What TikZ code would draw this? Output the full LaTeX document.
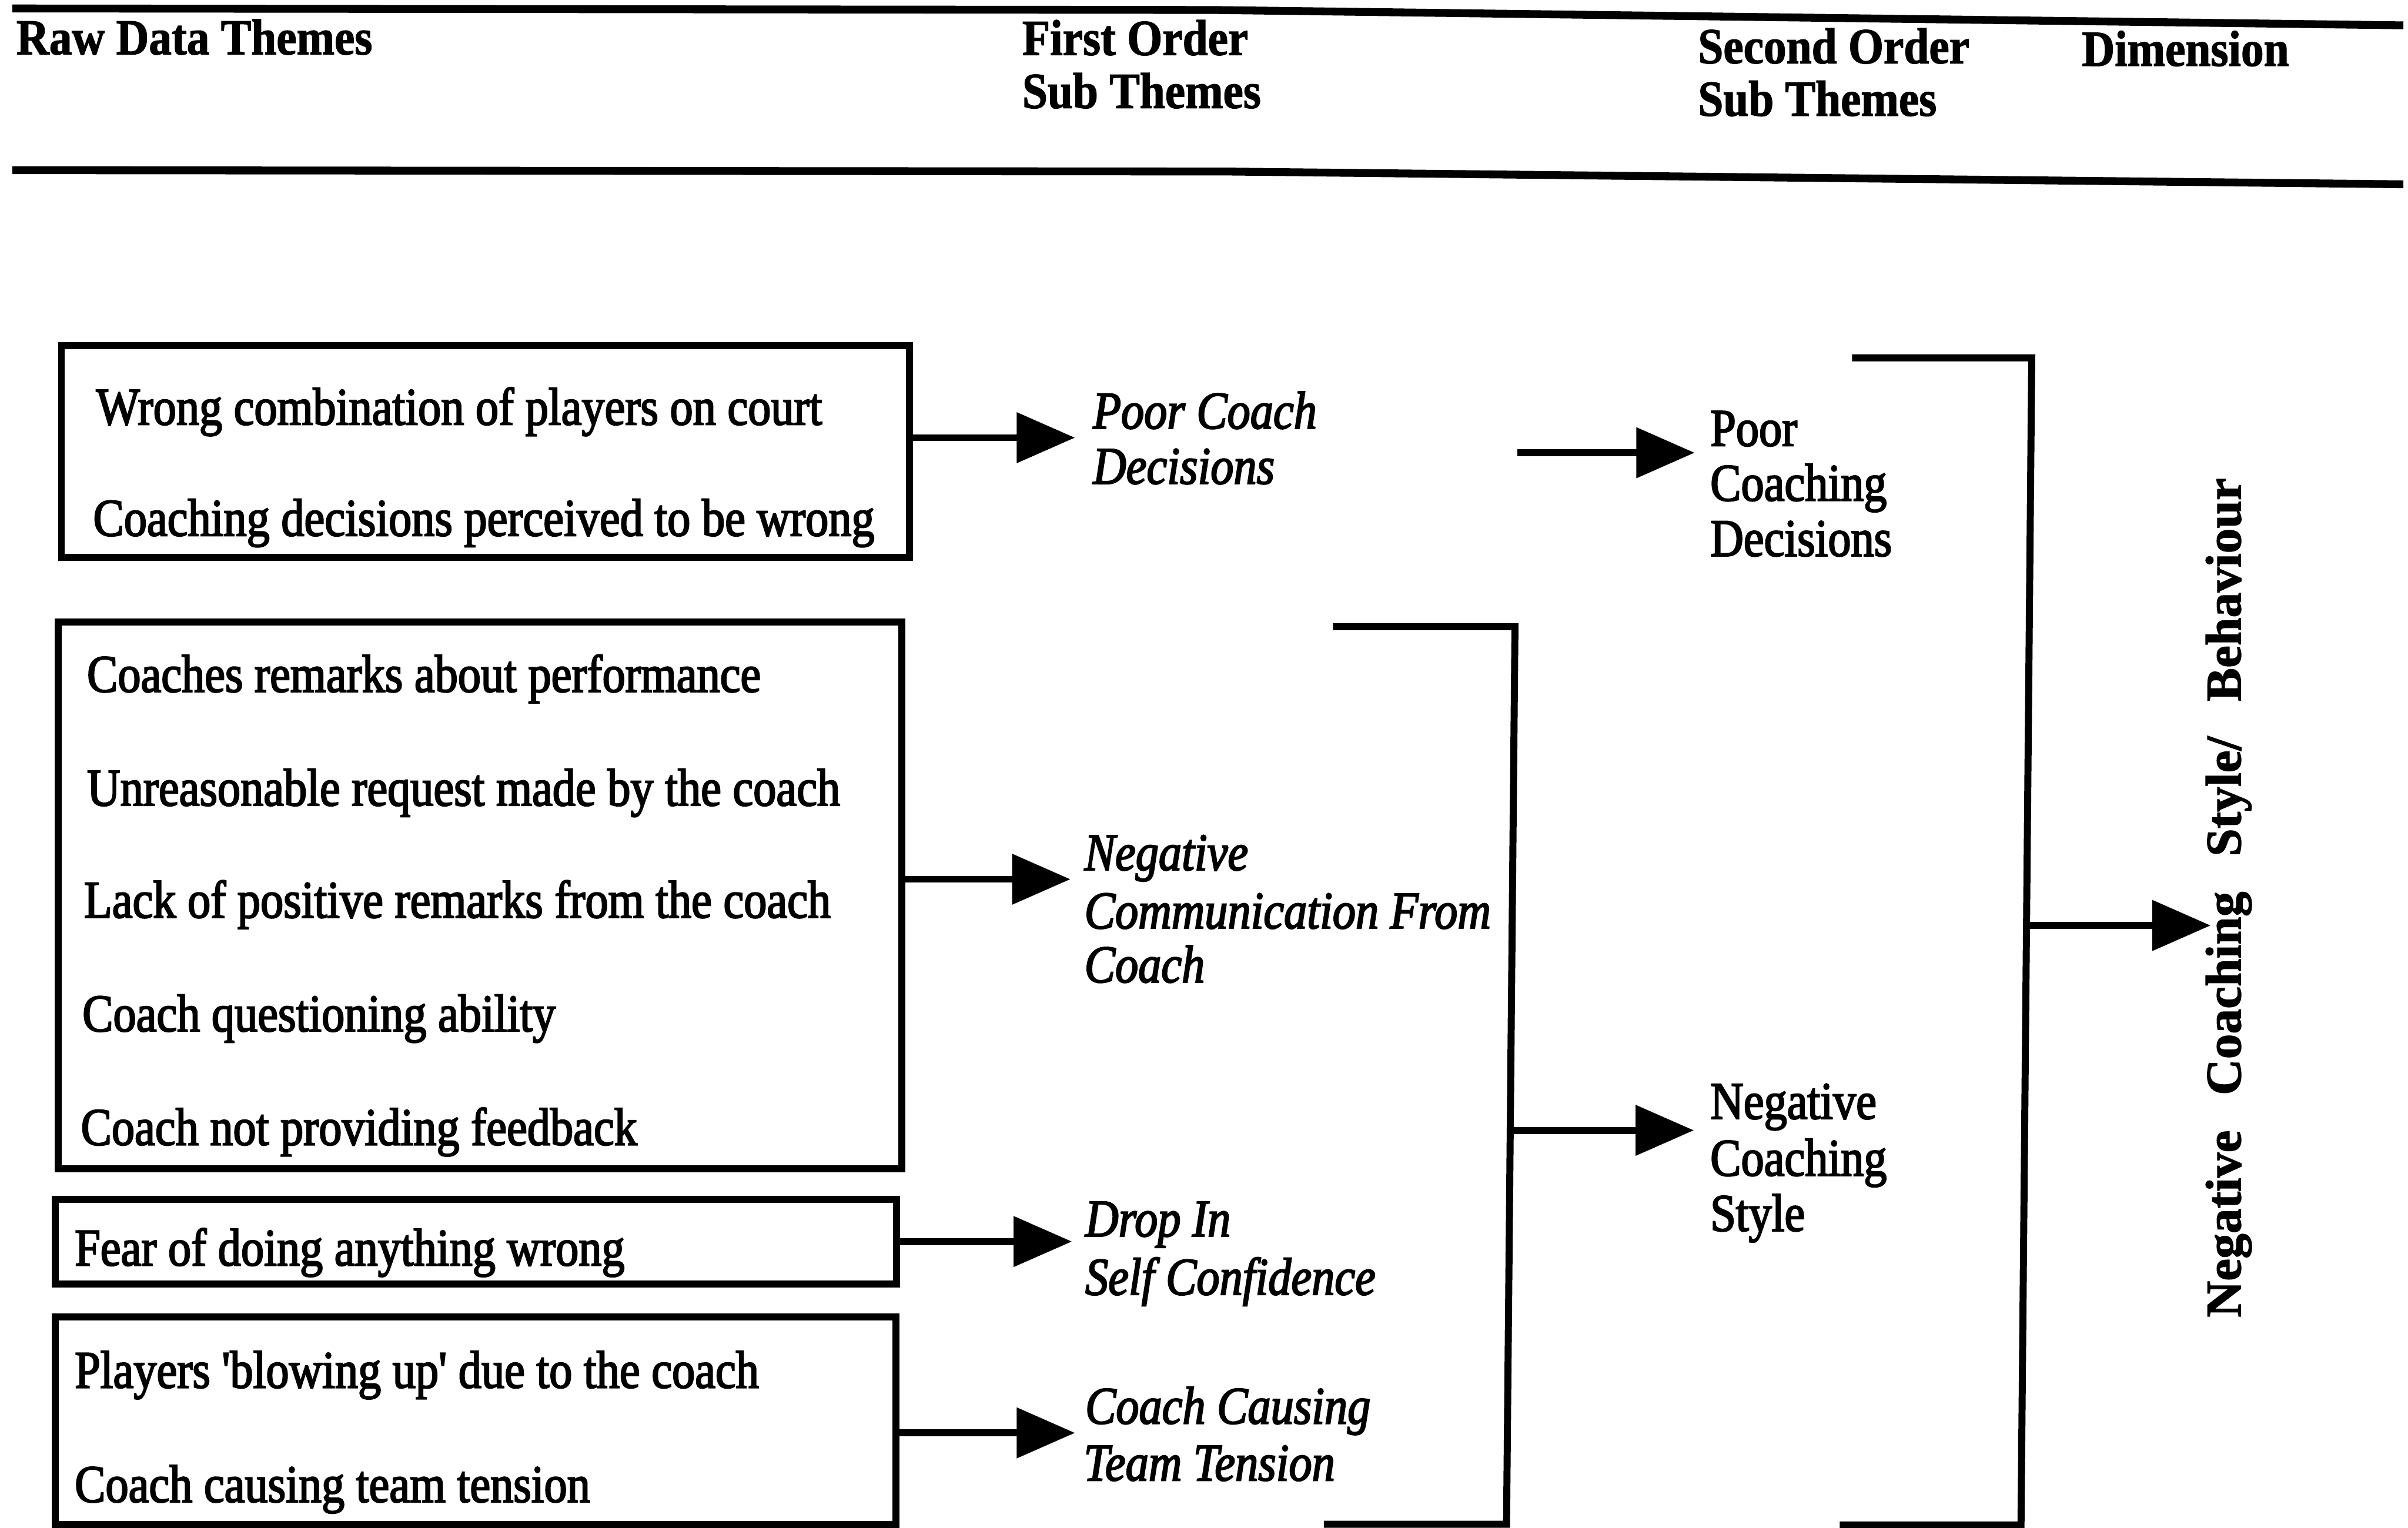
\documentclass[tikz,border=0pt]{standalone}
\usepackage{fontspec}
\setmainfont{Liberation Serif}[FakeStretch=0.87, FakeBold=2.5]
\newfontfamily\headfont{Liberation Serif}[FakeStretch=0.9, FakeBold=1.5]
\newfontfamily\dimfont{Liberation Serif}[FakeBold=1.5]
\usetikzlibrary{arrows.meta}

\newcommand{\straightquote}{{\addfontfeature{Ligatures=TeXOff}'}}

\begin{document}
\begin{tikzpicture}[x=0.01cm, y=-0.01cm,
  rawbox/.style={draw, line width=1.3pt, anchor=north west, inner sep=0pt, outer sep=0pt},
  rawtext/.style={anchor=base west, inner sep=0pt, font=\fontsize{9.8}{11}\selectfont},
  firsttext/.style={anchor=base west, inner sep=0pt, font=\fontsize{9.8}{11}\selectfont\itshape},
  secondtext/.style={anchor=base west, inner sep=0pt, font=\fontsize{9.8}{11}\selectfont},
  headtext/.style={anchor=base west, inner sep=0pt, font=\headfont\bfseries\fontsize{9.35}{11}\selectfont},
  rule/.style={line width=1.45pt},
  bracket/.style={line width=1.3pt},
  link/.style={line width=1.3pt, -{Triangle[length=10.8pt, width=9.1pt]}},
]
\useasboundingbox (0,0) rectangle (1568,994.6);

% column headings between two rules
\draw[rule] (8,5.5) -- (790,6.5) -- (1565,16.5);
\draw[rule] (8,110.8) -- (800,111.7) -- (1565,120);
\node[headtext] (h1) at (10,35.4) {Raw Data Themes};
\node[headtext] (h2a) at (665,35.8) {First Order};
\node[headtext] (h2b) at (665,70.3) {Sub Themes};
\node[headtext] (h3a) at (1105,41.2) {Second Order};
\node[headtext] (h3b) at (1105,75.4) {Sub Themes};
\node[headtext] (h4) at (1355,42.9) {Dimension};

% raw data theme boxes
\node[rawbox, minimum width=5.52cm, minimum height=1.38cm] (boxA) at (40,225) {};
\node[rawtext] (a1) at (62,276.5) {Wrong combination of players on court};
\node[rawtext] (a2) at (60,348.8) {Coaching decisions perceived to be wrong};

\node[rawbox, minimum width=5.49cm, minimum height=3.56cm] (boxB) at (38,405) {};
\node[rawtext] (b1) at (56,450.5) {Coaches remarks about performance};
\node[rawtext] (b2) at (56,524.5) {Unreasonable request made by the coach};
\node[rawtext] (b3) at (54,597.5) {Lack of positive remarks from the coach};
\node[rawtext] (b4) at (53,671.5) {Coach questioning ability};
\node[rawtext] (b5) at (52,745.5) {Coach not providing feedback};

\node[rawbox, minimum width=5.475cm, minimum height=0.55cm] (boxC) at (36,781) {};
\node[rawtext] (c1) at (48,824) {Fear of doing anything wrong};

\node[rawbox, minimum width=5.47cm, minimum height=1.35cm] (boxD) at (36,857.5) {};
\node[rawtext] (d1) at (48,903.6) {Players \straightquote blowing up\straightquote{} due to the coach};
\node[rawtext] (d2) at (48,978) {Coach causing team tension};

% first order sub themes
\node[firsttext] (f1a) at (711,279) {Poor Coach};
\node[firsttext] (f1b) at (711,315) {Decisions};
\node[firsttext] (f2a) at (705.5,566.6) {Negative};
\node[firsttext] (f2b) at (705.5,604.5) {Communication From};
\node[firsttext] (f2c) at (705.5,639.6) {Coach};
\node[firsttext] (f3a) at (706,805) {Drop In};
\node[firsttext] (f3b) at (706,843) {Self Confidence};
\node[firsttext] (f4a) at (706,927) {Coach Causing};
\node[firsttext] (f4b) at (705,964) {Team Tension};

% second order sub themes
\node[secondtext] (s1a) at (1113,290.3) {Poor};
\node[secondtext] (s1b) at (1113,326) {Coaching};
\node[secondtext] (s1c) at (1113,362) {Decisions};
\node[secondtext] (s2a) at (1113,728.5) {Negative};
\node[secondtext] (s2b) at (1113,765.5) {Coaching};
\node[secondtext] (s2c) at (1113,801.5) {Style};

% dimension, set vertically
\node[rotate=90, anchor=base, inner sep=0pt, font=\dimfont\bfseries\fontsize{9.3}{11}\selectfont] (dim)
  at (1459,584.5) {Negative\hspace{6.5pt}Coaching\hspace{6.5pt}Style/\hspace{6.5pt}Behaviour};

% grouping brackets
\draw[bracket] (868,408) -- (986.5,408) -- (981,992.5) -- (862,992.5);
\draw[bracket] (1206,233) -- (1323,233) -- (1316,993) -- (1198,993);

% arrow ends
\coordinate (tA) at (700,285);
\coordinate (tB) at (697,572.5);
\coordinate (tC) at (698,808.4);
\coordinate (tD) at (700,933);
\coordinate (sP) at (988,294.8);
\coordinate (tP) at (1103.5,294.8);
\coordinate (sN) at (984,736);
\coordinate (tN) at (1103,736);
\coordinate (sK) at (1320,602.6);
\coordinate (tK) at (1439.5,602.6);

% connectors
\draw[link] (boxA.east |- tA) -- (tA);
\draw[link] (boxB.east |- tB) -- (tB);
\draw[link] (boxC.east |- tC) -- (tC);
\draw[link] (boxD.east |- tD) -- (tD);
\draw[link] (sP) -- (tP);
\draw[link] (sN) -- (tN);
\draw[link] (sK) -- (tK);
\end{tikzpicture}
\end{document}
